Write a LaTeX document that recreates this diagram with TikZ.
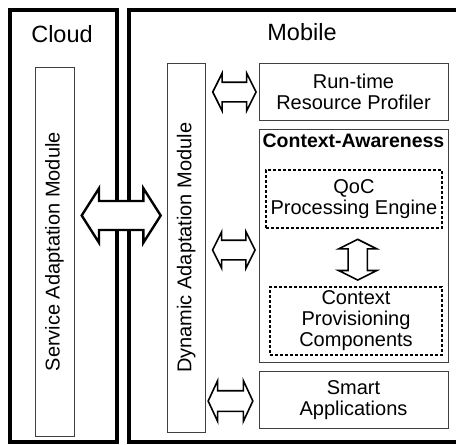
\documentclass[tikz,border=0pt]{standalone}
\usepackage{fontspec}
\setmainfont{Liberation Sans}
\usetikzlibrary{shapes.arrows,positioning}

\begin{document}
\begin{tikzpicture}[x=1pt, y=-1pt,
  frame/.style={draw, line width=4pt, inner sep=0pt},
  title/.style={font=\fontsize{23.5}{27}\selectfont, anchor=base},
  modbox/.style={draw=black!75, line width=1pt, inner sep=0pt},
  txt/.style={font=\fontsize{20}{21}\selectfont, align=center},
  subbox/.style={draw, line width=1.2pt, dash pattern=on 3pt off 2pt, inner sep=0pt},
  dblarrow/.style={double arrow, draw, line width=1.6pt, fill=white, inner sep=0pt, outer sep=0pt}
]
\useasboundingbox (0,0) rectangle (456,445);
\clip (0,0) rectangle (456,445);

% the two sides
\node[frame, minimum width=107.2, minimum height=431.7] (cloud) at (63.4,226.2) {};
\node[frame, minimum width=346.3, minimum height=431.7] (mobile) at (301.9,226.2) {};
\node[title] (cloudlbl) at (62,42.7) {Cloud};
\node[title] (mobilelbl) at (302,40) {Mobile};

% adaptation modules
\node[modbox, txt, rotate=90, minimum width=369, minimum height=39] (sam) at (54.5,251.7) {Service Adaptation Module};
\node[modbox, txt, rotate=90, minimum width=369, minimum height=37.7] (dam) at (186.2,247.8) {Dynamic Adaptation Module};

% mobile components
\node[modbox, txt, minimum width=189, minimum height=57.5] (rtp) at (353.5,92) {Run-time\\Resource Profiler};
\node[modbox, minimum width=189, minimum height=233.5] (ctx) at (353.5,246) {};
\node[font=\bfseries\fontsize{19.5}{20.5}\selectfont, inner sep=0pt, below=4.5pt of ctx.north] (ctxlbl) {Context-Awareness};
\node[subbox, txt, minimum width=176, minimum height=58] (qoc) at (353.9,199) {QoC\\Processing Engine};
\node[subbox, txt, minimum width=172, minimum height=68] (prov) at (356,321) {Context\\Provisioning\\Components};
\node[modbox, txt, minimum width=189, minimum height=57.3] (apps) at (353.5,399.7) {Smart\\Applications};

% block arrows
\node[dblarrow, line width=2.4pt, minimum height=79, minimum width=52, inner ysep=13.3pt,
  double arrow head extend=12.7pt, double arrow tip angle=115] (big) at (121.2,215.5) {};
\node[dblarrow, minimum height=43.3, minimum width=36, inner ysep=9pt,
  double arrow head extend=9pt, double arrow tip angle=127] (arr1) at (234.4,92) {};
\node[dblarrow, minimum height=42.5, minimum width=35, inner ysep=9pt,
  double arrow head extend=8.5pt, double arrow tip angle=127] (arr2) at (233.8,250) {};
\node[dblarrow, minimum height=44.7, minimum width=39, inner ysep=9.5pt,
  double arrow head extend=10pt, double arrow tip angle=130] (arr3) at (230.5,401) {};
\node[dblarrow, rotate=90, minimum height=40.7, minimum width=36.6, inner ysep=8.8pt,
  double arrow head extend=9.5pt, double arrow tip angle=127] (arr4) at (357.7,259.7) {};
\end{tikzpicture}
\end{document}
